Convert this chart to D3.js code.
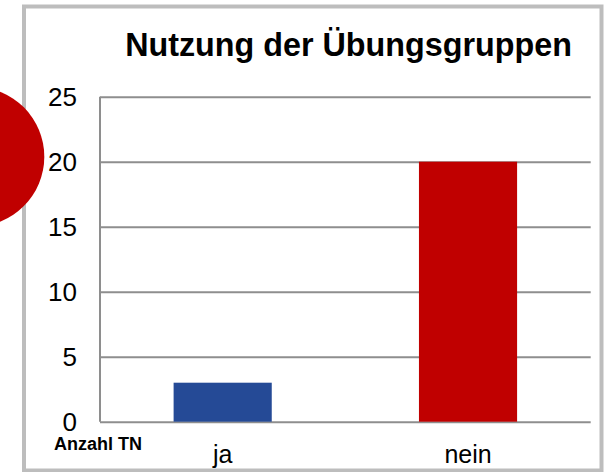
<!DOCTYPE html>
<html>
<head>
<meta charset="utf-8">
<script src="https://cdn.jsdelivr.net/npm/d3@7"></script>
<style>
  html, body { margin: 0; padding: 0; background: #fff; }
  svg { display: block; font-family: "Liberation Sans", Arial, sans-serif; }
</style>
</head>
<body>
<div id="chart"></div>
<script>
// chart data
const categories = ['ja', 'nein'];
const counts = [3, 20];
const barColors = ['#254a96', '#c00000'];
const yTicks = [0, 5, 10, 15, 20, 25];
const title = 'Nutzung der Übungsgruppen';
const yLabel = 'Anzahl TN';

const width = 604;
const height = 472;
const margin = { top: 96.7, right: 13.3, bottom: 50.3, left: 100 };

const svg = d3.select('#chart')
  .append('svg')
  .attr('width', width)
  .attr('height', height);

// outer frame of the chart
svg.append('rect')
  .attr('x', 24)
  .attr('y', 6.5)
  .attr('width', 577.5)
  .attr('height', 464)
  .attr('fill', '#fff')
  .attr('stroke', '#bdbdbd')
  .attr('stroke-width', 4);

const x = d3.scaleBand()
  .domain(categories)
  .range([margin.left, width - margin.right])
  .paddingInner(0.6)
  .paddingOuter(0.3);

const y = d3.scaleLinear()
  .domain([0, 25])
  .range([height - margin.bottom, margin.top]);

// gridlines + y labels
const yAxis = svg.append('g')
  .attr('transform', 'translate(' + margin.left + ',0)')
  .call(d3.axisLeft(y)
    .tickValues(yTicks)
    .tickSize(-(width - margin.left - margin.right))
    .tickPadding(23));
yAxis.select('.domain').remove();
yAxis.selectAll('.tick line')
  .attr('stroke', '#8e8e8e')
  .attr('stroke-width', 2);
yAxis.selectAll('.tick text')
  .attr('fill', '#000')
  .style('font-size', '26px');

// left axis line
svg.append('line')
  .attr('x1', margin.left).attr('x2', margin.left)
  .attr('y1', y(25)).attr('y2', y(0))
  .attr('stroke', '#8e8e8e')
  .attr('stroke-width', 2);

// bars
svg.selectAll('.bar')
  .data(categories)
  .enter()
  .append('rect')
  .attr('class', 'bar')
  .attr('x', (d) => x(d))
  .attr('width', x.bandwidth())
  .attr('y', (d, i) => y(counts[i]))
  .attr('height', (d, i) => y(0) - y(counts[i]))
  .attr('fill', (d, i) => barColors[i]);

// category labels
svg.selectAll('.cat')
  .data(categories)
  .enter()
  .append('text')
  .attr('x', (d) => x(d) + x.bandwidth() / 2)
  .attr('y', 463)
  .attr('text-anchor', 'middle')
  .style('font-size', '25px')
  .text((d) => d);

// title
svg.append('text')
  .attr('x', 348.5)
  .attr('y', 56)
  .attr('text-anchor', 'middle')
  .style('font-size', '32.3px')
  .style('font-weight', 'bold')
  .text(title);

// axis title below the zero label
svg.append('text')
  .attr('x', 98)
  .attr('y', 449.5)
  .attr('text-anchor', 'middle')
  .style('font-size', '18px')
  .style('font-weight', 'bold')
  .text(yLabel);

// red round shape sticking in from the left edge
svg.append('circle')
  .attr('cx', -25.5)
  .attr('cy', 156.7)
  .attr('r', 69.8)
  .attr('fill', '#c00000');
</script>
</body>
</html>
